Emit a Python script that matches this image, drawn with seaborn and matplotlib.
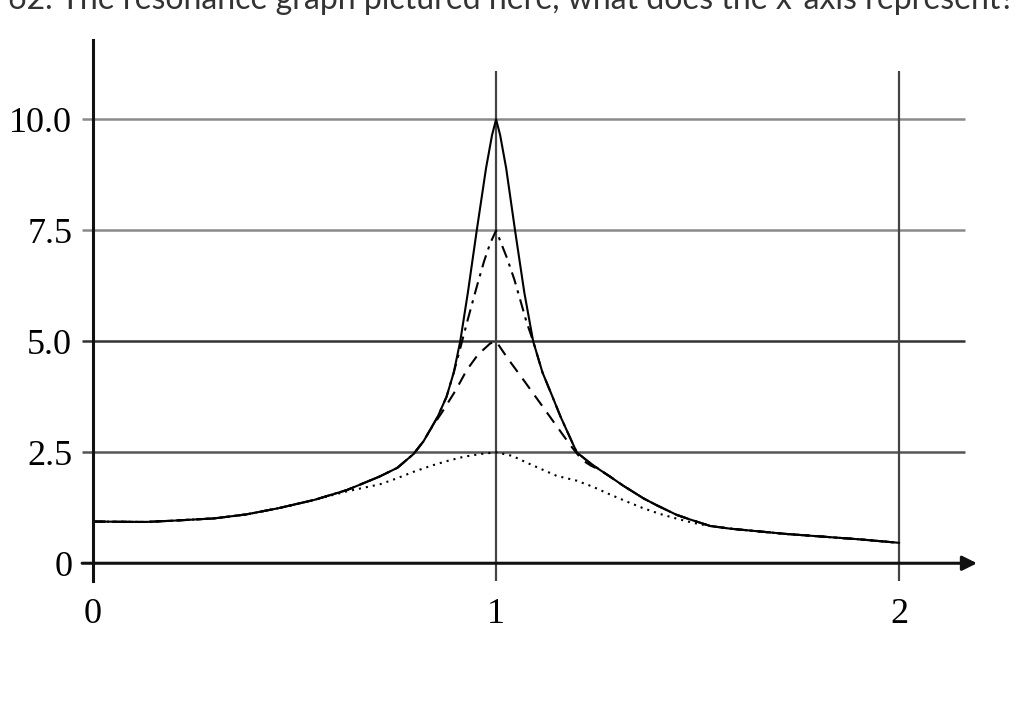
import numpy as np
import pandas as pd
import seaborn as sns
import matplotlib.pyplot as plt

# values
solid_x = [0.0, 0.13, 0.2, 0.30, 0.38, 0.46, 0.55, 0.63, 0.71, 0.755, 0.795, 0.82, 0.836, 0.855, 0.877,
           0.895, 0.911, 0.93, 0.952, 0.975, 0.99, 1.0, 1.01, 1.025, 1.047, 1.07, 1.092, 1.115, 1.14,
           1.16, 1.185, 1.2, 1.23, 1.258, 1.283, 1.315, 1.366, 1.4, 1.448, 1.48, 1.531, 1.58, 1.638,
           1.72, 1.81, 1.9, 2.0]
solid_y = [0.94, 0.93, 0.96, 1.01, 1.1, 1.24, 1.43, 1.65, 1.95, 2.15, 2.46, 2.75, 3.0, 3.3, 3.75,
           4.3, 5.0, 6.1, 7.5, 8.9, 9.65, 10.0, 9.65, 8.9, 7.5, 6.1, 5.0, 4.3, 3.75,
           3.3, 2.8, 2.5, 2.28, 2.1, 1.95, 1.75, 1.46, 1.3, 1.09, 0.99, 0.84, 0.78, 0.73,
           0.66, 0.6, 0.54, 0.46]

dashdot_x = [0.0, 0.13, 0.2, 0.30, 0.38, 0.46, 0.55, 0.63, 0.71, 0.755, 0.795, 0.82, 0.836, 0.855,
             0.877, 0.895, 0.908, 0.93, 0.952, 0.97, 0.985, 1.0, 1.026, 1.045, 1.06, 1.075, 1.092,
             1.115, 1.14, 1.16, 1.185, 1.2, 1.23, 1.258, 1.283, 1.315, 1.366, 1.4, 1.448, 1.48,
             1.531, 1.58, 1.638, 1.72, 1.81, 1.9, 2.0]
dashdot_y = [0.94, 0.93, 0.96, 1.01, 1.1, 1.24, 1.43, 1.65, 1.95, 2.15, 2.46, 2.75, 3.0, 3.3,
             3.75, 4.3, 4.74, 5.5, 6.23, 6.8, 7.2, 7.5, 6.9, 6.4, 5.93, 5.45, 5.0,
             4.3, 3.75, 3.3, 2.8, 2.5, 2.28, 2.1, 1.95, 1.75, 1.46, 1.3, 1.09, 0.99,
             0.84, 0.78, 0.73, 0.66, 0.6, 0.54, 0.46]

dashed_x = [0.0, 0.13, 0.2, 0.30, 0.38, 0.46, 0.55, 0.63, 0.71, 0.755, 0.795, 0.82, 0.836, 0.865,
            0.9, 0.927, 0.955, 0.985, 1.0, 1.03, 1.068, 1.11, 1.151, 1.185, 1.213, 1.235, 1.258,
            1.283, 1.315, 1.366, 1.4, 1.448, 1.48, 1.531, 1.58, 1.638, 1.72, 1.81, 1.9, 2.0]
dashed_y = [0.94, 0.93, 0.96, 1.01, 1.1, 1.24, 1.43, 1.65, 1.95, 2.15, 2.46, 2.75, 3.0, 3.39,
            3.9, 4.35, 4.7, 4.95, 5.0, 4.6, 4.13, 3.6, 3.08, 2.65, 2.33, 2.2, 2.1,
            1.95, 1.75, 1.46, 1.3, 1.09, 0.99, 0.84, 0.78, 0.73, 0.66, 0.6, 0.54, 0.46]

dotted_x = [0.0, 0.13, 0.2, 0.30, 0.38, 0.46, 0.55, 0.63, 0.712, 0.75, 0.795, 0.84, 0.877, 0.92,
            0.96, 1.0, 1.04, 1.08, 1.15, 1.2, 1.241, 1.28, 1.324, 1.365, 1.407, 1.45, 1.489, 1.53,
            1.572, 1.647, 1.72, 1.81, 1.9, 2.0]
dotted_y = [0.94, 0.93, 0.96, 1.01, 1.1, 1.24, 1.43, 1.62, 1.78, 1.9, 2.06, 2.2, 2.3, 2.4,
            2.46, 2.5, 2.42, 2.25, 1.97, 1.86, 1.72, 1.56, 1.39, 1.24, 1.11, 1.0, 0.91, 0.84,
            0.79, 0.72, 0.66, 0.6, 0.54, 0.46]

y_ticks = [0, 2.5, 5.0, 7.5, 10.0]
y_labels = ['0', '2.5', '5.0', '7.5', '10.0']
x_ticks = [0, 1, 2]
x_labels = ['0', '1', '2']

title = '62. The resonance graph pictured here, what does the x-axis represent?'

sns.set_style('white')

fig = plt.figure(figsize=(10.24, 7.10), dpi=100)
ax = fig.add_axes([93 / 1024, 129 / 710, 884 / 1024, 541 / 710])
ax.set_xlim(0, 2.193)
ax.set_ylim(-0.4, 11.79)

# grid
grid_colors = ['#555555', '#333333', '#8a8a8a', '#8a8a8a']
for yv, c in zip(y_ticks[1:], grid_colors):
    ax.hlines(yv, -0.027, 2.164, color=c, lw=1.8, clip_on=False, zorder=1)
ax.vlines([1, 2], -0.4, 11.1, color='#444444', lw=1.6, zorder=1)

# curves
sns.lineplot(x=dotted_x, y=dotted_y, ax=ax, color='black', lw=1.5, linestyle=(0, (1, 2.4)),
             estimator=None, sort=False, zorder=3)
sns.lineplot(x=dashed_x, y=dashed_y, ax=ax, color='black', lw=1.5, linestyle=(0, (6, 4)),
             estimator=None, sort=False, zorder=3)
sns.lineplot(x=dashdot_x, y=dashdot_y, ax=ax, color='black', lw=1.5, linestyle=(0, (6, 3, 1.5, 3)),
             estimator=None, sort=False, zorder=3)
sns.lineplot(x=solid_x, y=solid_y, ax=ax, color='black', lw=1.5,
             estimator=None, sort=False, zorder=4)

# x axis with arrow
ax.annotate('', xy=(2.193, 0), xytext=(-0.027, 0),
            arrowprops=dict(arrowstyle='-|>', lw=2.2, color='#111111', mutation_scale=22,
                            shrinkA=0, shrinkB=0),
            annotation_clip=False, zorder=5)

for side in ['top', 'right', 'bottom']:
    ax.spines[side].set_visible(False)
ax.spines['left'].set_color('#111111')
ax.spines['left'].set_linewidth(2.2)
ax.spines['left'].set_zorder(5)

ax.set_yticks(y_ticks, labels=y_labels)
ax.set_xticks(x_ticks, labels=x_labels)
ax.tick_params(axis='y', length=0, pad=15)
ax.tick_params(axis='x', length=0, pad=12)
for lab in ax.get_yticklabels() + ax.get_xticklabels():
    lab.set_fontfamily('Liberation Serif')
    lab.set_fontsize(26)
    lab.set_color('#000000')
ax.set_xlabel('')
ax.set_ylabel('')

fig.text(8 / 1024, 1 - 9 / 710, title, family='Lato', fontsize=23, color='#333333',
         va='baseline', ha='left')

fig.savefig('out.png', dpi=100)
